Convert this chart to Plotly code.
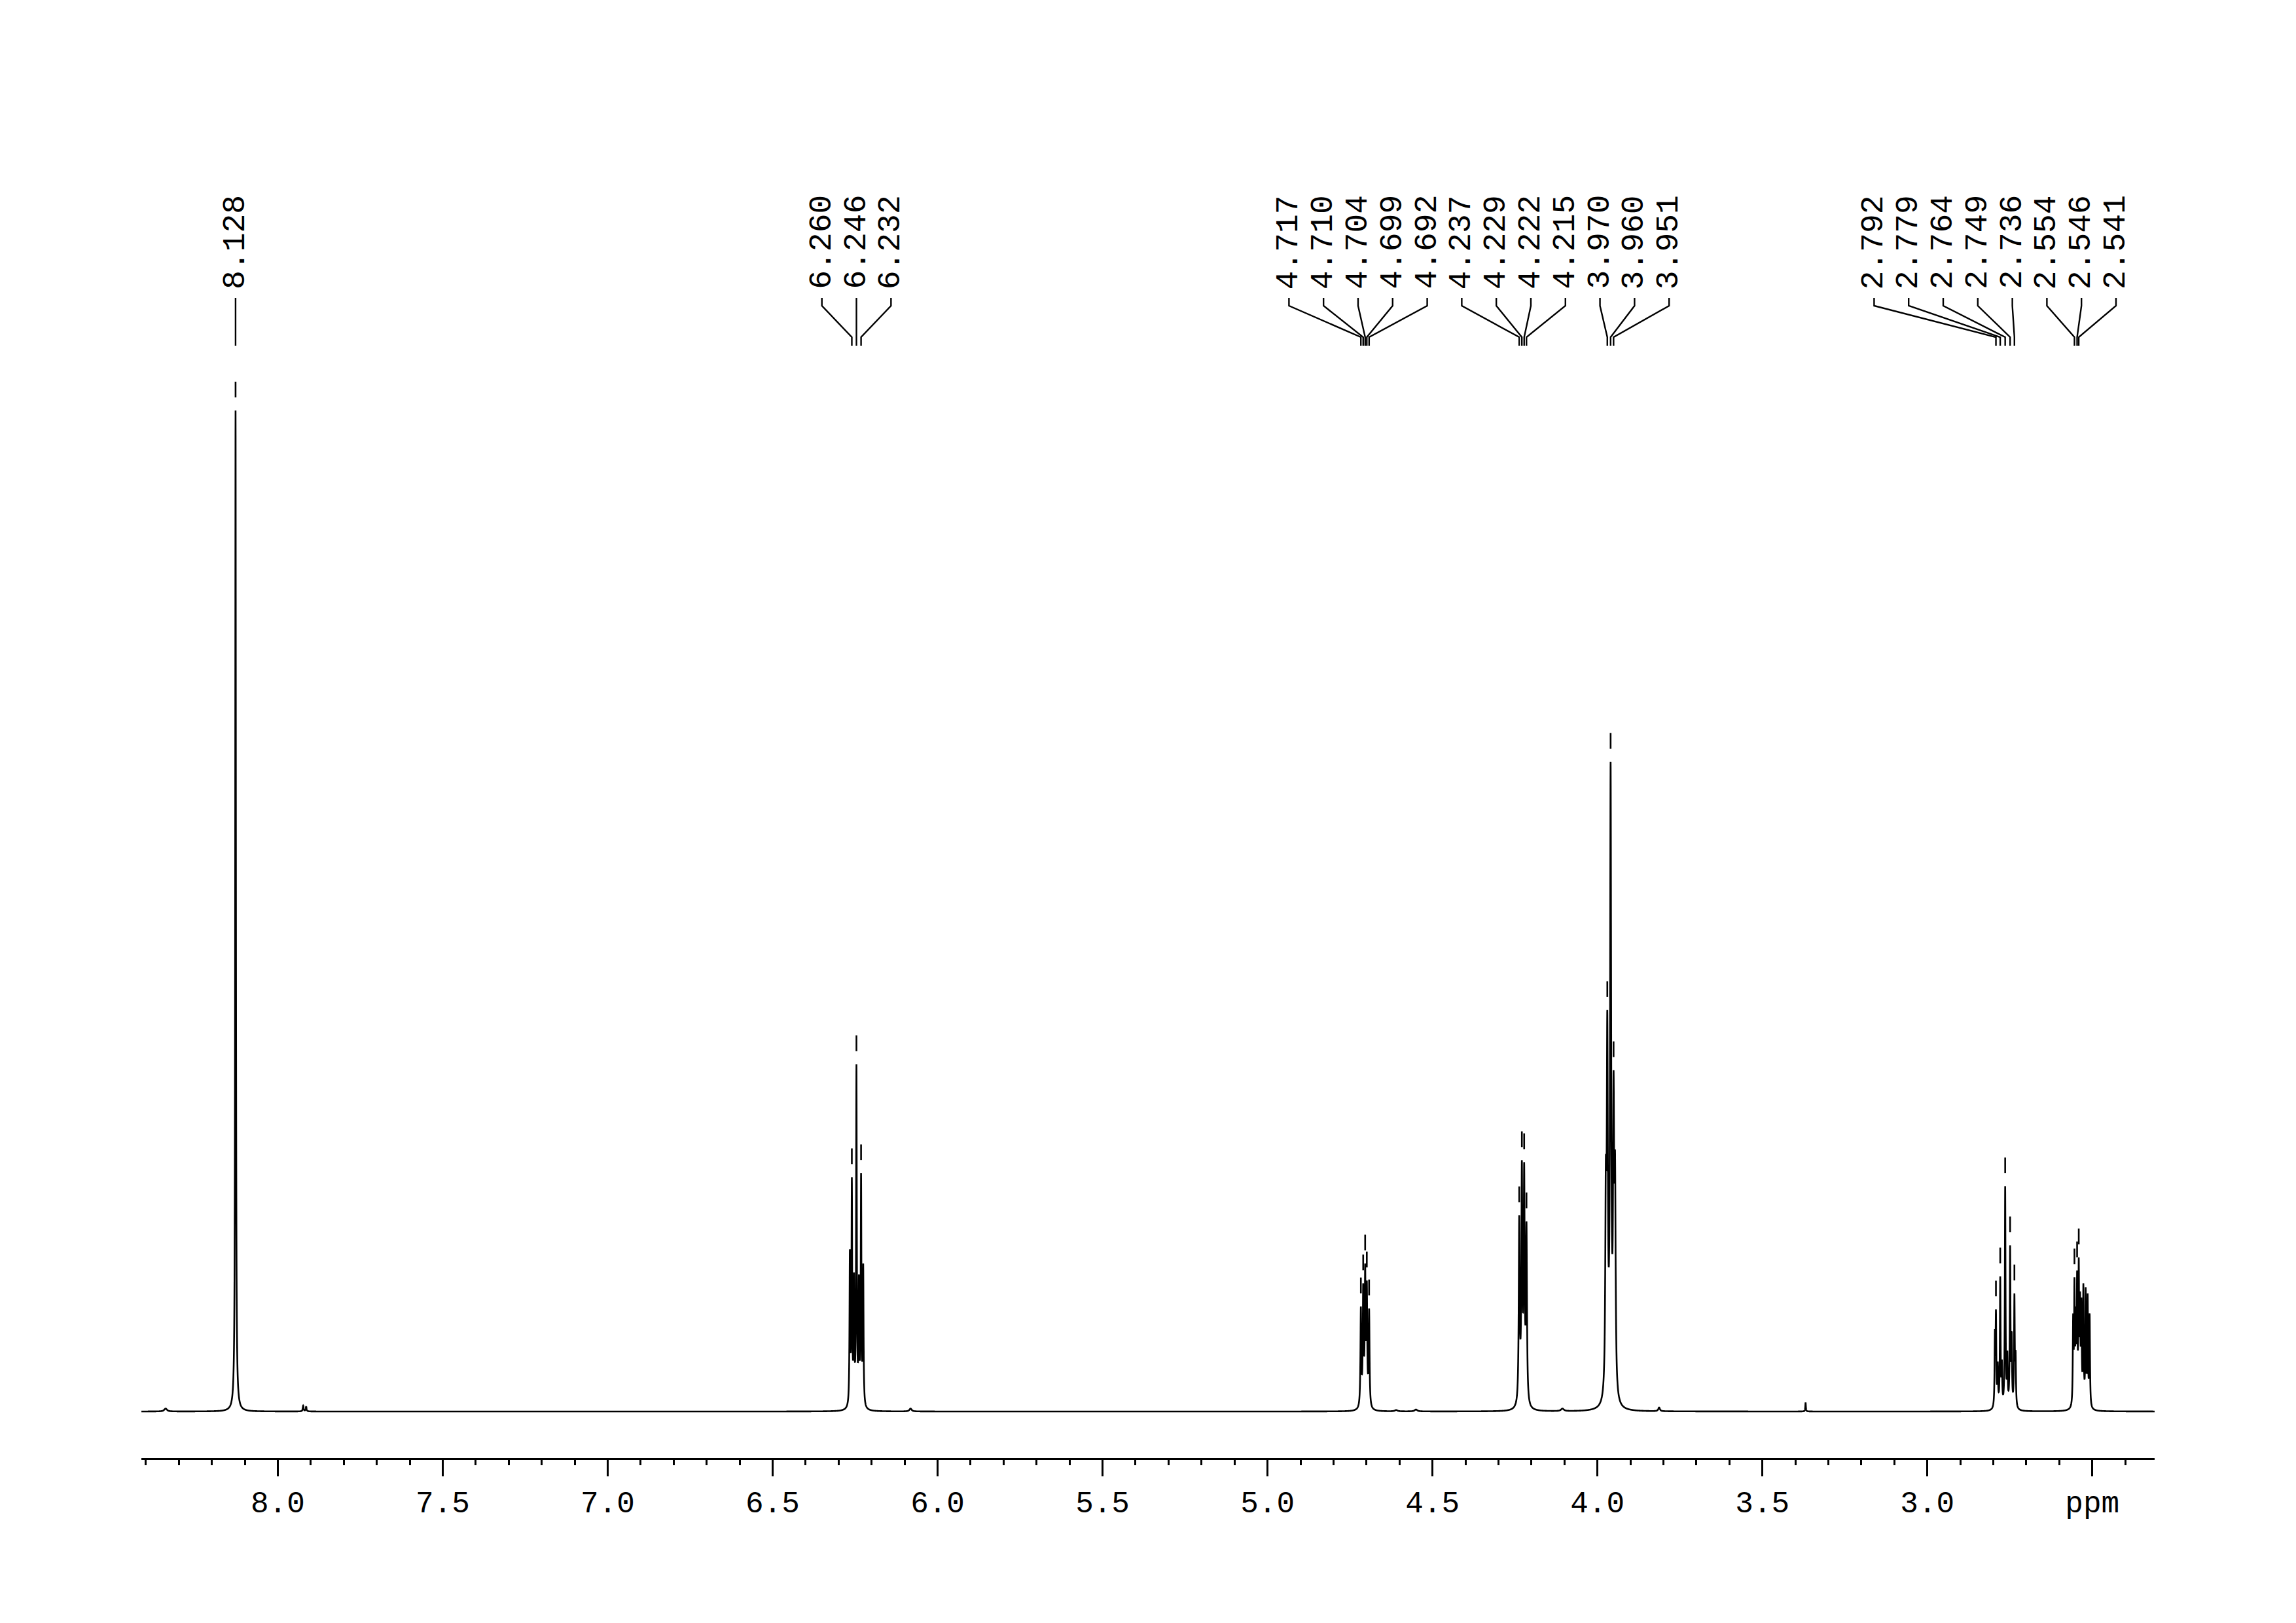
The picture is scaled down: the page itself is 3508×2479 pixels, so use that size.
import numpy as np
import plotly.graph_objects as go

# ---------------- data ----------------
# Resolved lines of the 1H spectrum: position (ppm), apparent height (8.128 = 100), line width (ppm)
LINE_PPM = [
    8.340, 8.128, 7.923, 7.914,
    6.2660, 6.2600, 6.2535, 6.2460, 6.2385, 6.2320, 6.2255,
    6.082,
    4.717, 4.710, 4.704, 4.699, 4.692,
    4.610, 4.550,
    4.237, 4.229, 4.222, 4.215,
    4.106,
    3.9745, 3.970, 3.960, 3.951, 3.9465,
    3.813, 3.369,
    2.7951, 2.792, 2.7866, 2.779, 2.774, 2.764, 2.7574, 2.749, 2.7443, 2.736, 2.7324,
    2.558, 2.554, 2.550, 2.546, 2.541, 2.537, 2.533, 2.527, 2.520, 2.514, 2.508,
]
LINE_HEIGHT = [
    0.3, 100.0, 0.6, 0.5,
    16.2, 23.4, 13.9, 34.7, 13.7, 23.8, 14.8,
    0.3,
    10.5, 12.8, 14.8, 13.1, 10.3,
    0.15, 0.2,
    19.6, 25.1, 24.9, 19.0,
    0.3,
    25.4, 40.1, 64.9, 34.1, 26.0,
    0.4, 0.9,
    8.2, 10.2, 5.0, 13.5, 5.2, 22.5, 6.1, 16.6, 8.0, 11.8, 6.1,
    9.8, 13.4, 10.5, 14.1, 15.4, 12.0, 11.4, 12.8, 12.4, 11.8, 9.8,
]
LINE_WIDTH = [
    0.010, 0.0025, 0.003, 0.003,
    0.0025, 0.0025, 0.0025, 0.0025, 0.0025, 0.0025, 0.0025,
    0.008,
    0.003, 0.003, 0.003, 0.003, 0.003,
    0.010, 0.010,
    0.0035, 0.0035, 0.0035, 0.0035,
    0.010,
    0.004, 0.004, 0.004, 0.004, 0.004,
    0.006, 0.002,
    0.0025, 0.0025, 0.0025, 0.0025, 0.0025, 0.0025, 0.0025, 0.0025, 0.0025, 0.0025, 0.0025,
    0.0025, 0.0025, 0.0025, 0.0025, 0.0025, 0.0025, 0.0025, 0.0025, 0.0025, 0.0025, 0.0025,
]

# Picked peaks, grouped as in the label clusters
LABEL_GROUPS = [
    [8.128],
    [6.260, 6.246, 6.232],
    [4.717, 4.710, 4.704, 4.699, 4.692, 4.237, 4.229, 4.222, 4.215, 3.970, 3.960, 3.951],
    [2.792, 2.779, 2.764, 2.749, 2.736, 2.554, 2.546, 2.541],
]

PPM_RANGE = [8.4135, 2.311]
TICK_VALS = [8.0, 7.5, 7.0, 6.5, 6.0, 5.5, 5.0, 4.5, 4.0, 3.5, 3.0, 2.5]
TICK_TEXT = ["8.0", "7.5", "7.0", "6.5", "6.0", "5.5", "5.0", "4.5", "4.0", "3.5", "3.0", "ppm"]

# ---------------- layout constants (pixels, page coordinates) ----------------
W, H = 3508, 2479
BODY = 8                       # default page margin around the plot div
X_LEFT_PX, X_RIGHT_PX = 216, 3292
PLOT_TOP_PX, AXIS_Y_PX = 200, 2227
BASELINE_PX = 2156
PX_PER_UNIT = 15.29
LABEL_SPACING_PX = 52.8
LABEL_RIGHT_MARGIN_PX = 59
FONT = "Liberation Mono"

px_per_ppm = (X_RIGHT_PX - X_LEFT_PX) / (PPM_RANGE[0] - PPM_RANGE[1])


def ydata(py):
    return (BASELINE_PX - py) / PX_PER_UNIT


# ---------------- build spectrum from the line list ----------------
pp = np.array(LINE_PPM)
hh = np.array(LINE_HEIGHT)
ww = np.array(LINE_WIDTH)


def lor(x, x0, w):
    return 1.0 / (1.0 + (2.0 * (x - x0) / w) ** 2)


M = lor(pp[:, None], pp[None, :], ww[None, :])
active = np.ones(len(pp), bool)
amp = np.zeros(len(pp))
for _ in range(20):
    sub = np.linalg.solve(M[np.ix_(active, active)], hh[active])
    amp[:] = 0
    amp[active] = sub
    if (sub >= 0).all():
        break
    idx = np.where(active)[0]
    active[idx[sub < 0]] = False
amp = np.clip(amp, 0, None)

label_ppm = [p for g in LABEL_GROUPS for p in g]
x = np.union1d(np.arange(PPM_RANGE[1], PPM_RANGE[0], 0.0002), np.array(label_ppm + LINE_PPM))
y = np.zeros_like(x)
for a, p0, w0 in zip(amp, pp, ww):
    y += a * lor(x, p0, w0)

fig = go.Figure()
fig.add_trace(go.Scatter(x=x, y=y, mode="lines", line=dict(color="black", width=2.6, simplify=False),
                         hoverinfo="skip", showlegend=False))

# ---------------- peak markers (short dashes above picked peaks) ----------------
mx, my = [], []
for p in label_ppm:
    top = float(y[np.argmin(np.abs(x - p))])
    mx += [p, p, None]
    my += [top + 20 / PX_PER_UNIT, top + 44 / PX_PER_UNIT, None]
fig.add_trace(go.Scatter(x=mx, y=my, mode="lines", line=dict(color="black", width=2.6),
                         hoverinfo="skip", showlegend=False))

# ---------------- label layout ----------------
spacing_ppm = LABEL_SPACING_PX / px_per_ppm
right_limit = PPM_RANGE[1] + LABEL_RIGHT_MARGIN_PX / px_per_ppm
cx, cy = [], []
annotations = []
for g in LABEL_GROUPS:
    n = len(g)
    center = float(np.mean(g))
    pos = [center + ((n - 1) / 2 - k) * spacing_ppm for k in range(n)]
    if pos[-1] < right_limit:
        shift = right_limit - pos[-1]
        pos = [q + shift for q in pos]
    for p, lx in zip(g, pos):
        cx += [lx, lx, p, p, None]
        cy += [ydata(455), ydata(467), ydata(515), ydata(528), None]
        annotations.append(dict(
            x=lx, y=ydata(443), xref="x", yref="y", text=f"{p:.3f}", textangle=-90,
            showarrow=False, xanchor="center", yanchor="bottom", borderpad=0,
            font=dict(family=FONT, size=48, color="black")))
fig.add_trace(go.Scatter(x=cx, y=cy, mode="lines", line=dict(color="black", width=2.4),
                         hoverinfo="skip", showlegend=False))

fig.update_layout(
    width=W - 2 * BODY, height=H - 2 * BODY,
    margin=dict(l=X_LEFT_PX - BODY, r=W - BODY - X_RIGHT_PX,
                t=PLOT_TOP_PX - BODY, b=H - BODY - AXIS_Y_PX),
    paper_bgcolor="white", plot_bgcolor="white",
    annotations=annotations,
    showlegend=False,
    xaxis=dict(
        range=PPM_RANGE, showgrid=False, zeroline=False,
        showline=True, linecolor="black", linewidth=3,
        ticks="outside", ticklen=25, tickwidth=2.5, tickcolor="black",
        tickmode="array", tickvals=TICK_VALS, ticktext=TICK_TEXT,
        tickfont=dict(family=FONT, size=46, color="black"),
        ticklabelstandoff=0,
        minor=dict(dtick=0.1, tick0=0, ticks="outside", ticklen=8, tickwidth=2.5,
                   tickcolor="black", showgrid=False),
    ),
    yaxis=dict(range=[ydata(AXIS_Y_PX), ydata(PLOT_TOP_PX)], visible=False, showgrid=False, zeroline=False),
)

fig.write_html("out.html")
